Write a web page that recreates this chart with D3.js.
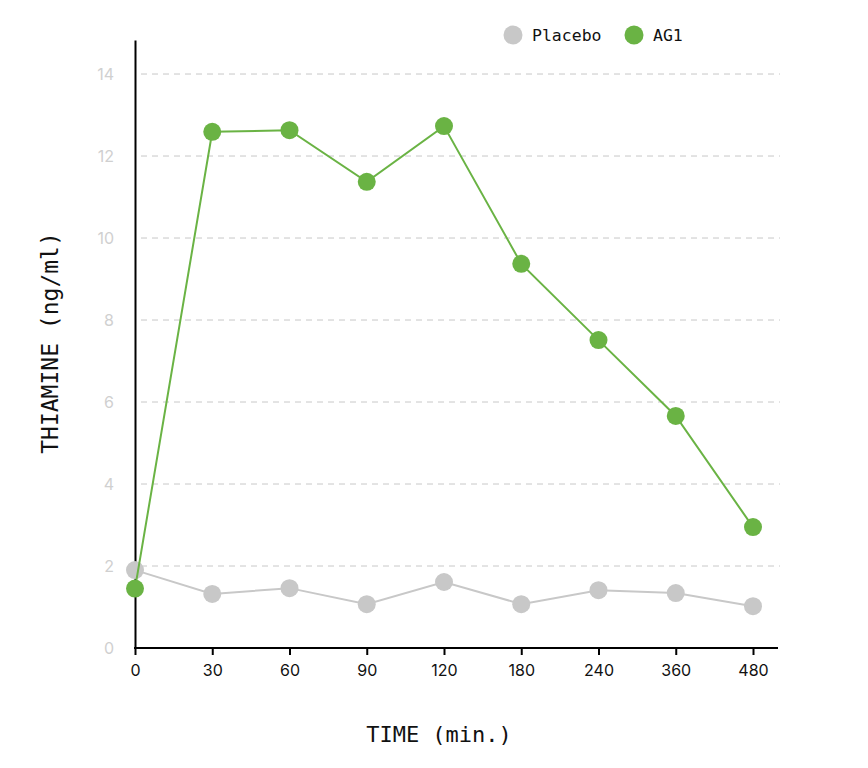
<!DOCTYPE html>
<html>
<head>
<meta charset="utf-8">
<script src="https://cdn.jsdelivr.net/npm/d3@7"></script>
<style>
  body { margin: 0; background: #fff; }
  .mono { font-family: "DejaVu Sans Mono", "Liberation Mono", monospace; }
</style>
</head>
<body>
<div id="chart"></div>
<script>
// data
const times = ["0", "30", "60", "90", "120", "180", "240", "360", "480"];
const placebo = [1.90, 1.32, 1.46, 1.07, 1.61, 1.07, 1.41, 1.34, 1.02];
const ag1 = [1.45, 12.59, 12.63, 11.37, 12.73, 9.37, 7.51, 5.66, 2.95];
const yTicks = [0, 2, 4, 6, 8, 10, 12, 14];

const width = 868, height = 768;
const grey = "#c8c8c8", green = "#6ab344";

const svg = d3.select("#chart").append("svg")
    .attr("width", width)
    .attr("height", height);

const margin = {top: 40, left: 135, right: 90, bottom: 120};

const xScale = d3.scalePoint()
    .domain(times)
    .range([margin.left, 753]);

const yScale = d3.scaleLinear()
    .domain([0, 14.83])
    .range([height - margin.bottom, margin.top]);

// grid lines
svg.append("g")
    .selectAll("line")
    .data(yTicks.filter(d => d > 0))
    .enter().append("line")
      .attr("x1", margin.left + 6)
      .attr("x2", 780)
      .attr("y1", d => yScale(d))
      .attr("y2", d => yScale(d))
      .attr("stroke", "#c8c8c8")
      .attr("stroke-width", 1)
      .attr("stroke-dasharray", "6,5");

// y axis
const yAxis = svg.append("g")
    .attr("transform", `translate(${margin.left},0)`)
    .call(d3.axisLeft(yScale).tickValues(yTicks).tickSize(0).tickPadding(21));
yAxis.select(".domain").attr("stroke", "#000").attr("stroke-width", 2);
yAxis.selectAll("text")
    .attr("fill", "#d0d0d0")
    .style("font-family", "Inter, 'Noto Sans', sans-serif")
    .style("font-size", "16px");

// x axis
const xAxis = svg.append("g")
    .attr("transform", `translate(0,${height - margin.bottom})`)
    .call(d3.axisBottom(xScale).tickSize(7).tickPadding(10));
xAxis.select(".domain").remove();
xAxis.append("line")
    .attr("x1", margin.left - 1)
    .attr("x2", 778)
    .attr("stroke", "#000")
    .attr("stroke-width", 2);
xAxis.selectAll(".tick line").attr("stroke", "#000").attr("stroke-width", 2);
xAxis.selectAll("text")
    .attr("fill", "#111")
    .style("font-family", "Inter, 'Noto Sans', sans-serif")
    .style("font-size", "16px");

// lines
const line = d3.line()
    .x((d, i) => xScale(times[i]))
    .y(d => yScale(d));

function drawSeries(values, color) {
    svg.append("path")
        .datum(values)
        .attr("d", line)
        .attr("fill", "none")
        .attr("stroke", color)
        .attr("stroke-width", 2);
    svg.append("g")
        .selectAll("circle")
        .data(values)
        .enter().append("circle")
          .attr("cx", (d, i) => xScale(times[i]))
          .attr("cy", d => yScale(d))
          .attr("r", 9)
          .attr("fill", color);
}
drawSeries(placebo, grey);
drawSeries(ag1, green);

// axis labels
svg.append("text")
    .attr("class", "mono")
    .attr("x", 439)
    .attr("y", 742)
    .attr("text-anchor", "middle")
    .attr("font-size", "22px")
    .attr("fill", "#111")
    .text("TIME (min.)");

svg.append("text")
    .attr("class", "mono")
    .attr("transform", "translate(58,343) rotate(-90)")
    .attr("text-anchor", "middle")
    .attr("font-size", "23px")
    .attr("fill", "#111")
    .text("THIAMINE (ng/ml)");

// legend
const legend = [{name: "Placebo", color: grey, x: 513}, {name: "AG1", color: green, x: 634}];
const lg = svg.append("g")
    .selectAll("g")
    .data(legend)
    .enter().append("g")
      .attr("transform", d => `translate(${d.x},35)`);
lg.append("circle").attr("r", 9.5).attr("fill", d => d.color);
lg.append("text")
    .attr("class", "mono")
    .attr("x", 19)
    .attr("dy", "0.35em")
    .attr("font-size", "16.5px")
    .attr("fill", "#111")
    .text(d => d.name);
</script>
</body>
</html>
